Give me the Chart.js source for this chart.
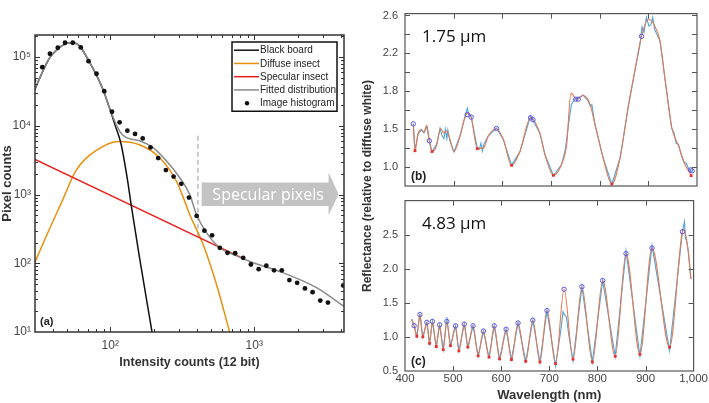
<!DOCTYPE html>
<html>
<head>
<meta charset="utf-8">
<script src="https://cdn.jsdelivr.net/npm/chart.js@4.4.1/dist/chart.umd.min.js"></script>
<style>
    body { margin: 0; background: #fff; width: 709px; height: 403px; position: relative; overflow: hidden; }
    canvas { position: absolute; }
</style>
</head>
<body>
<canvas id="chartA" width="360" height="403" style="left:0;top:0"></canvas>
<canvas id="chartB" width="349" height="403" style="left:360px;top:0"></canvas>
<canvas id="chartC" width="349" height="216" style="left:360px;top:187px"></canvas>
<script>
// ---- panel (a): intensity histogram ----
const histX = [29.5, 33.7, 38.1, 43.2, 48.5, 54.9, 62.4, 70.6, 80.2, 90.8, 102.8, 116.1, 131.4, 148.6, 168, 190.2, 215.2, 243.3, 275.2, 311.2, 351.8, 398, 450.4, 509.3, 576.3, 652, 736.7, 837.5, 947.5, 1073, 1213, 1372, 1553, 1754, 1985, 2248, 2541, 2873, 3250, 4150];
const histY = [45700, 71400, 112000, 137000, 162000, 162000, 138600, 87400, 57300, 31900, 16100, 11250, 8510, 7620, 6570, 4850, 3400, 2270, 1830, 1432, 904, 489, 298, 255, 168, 142, 140, 120, 96, 82, 92, 79, 79, 57, 52, 43, 38, 28.7, 26.8, 47.5];

const blackX = [30, 33.7, 38.1, 43.2, 48.5, 53, 58, 62.4, 70.6, 79.4, 89.4, 98.4, 108.4, 118.8, 132, 139.4, 159.2, 195.4];
const blackY = [34000, 60000, 99000, 132000, 155000, 162000, 158000, 138000, 90000, 57000, 33000, 18600, 10000, 5440, 1585, 724, 125, 9.7];

const orangeX = [30, 37, 46.4, 57.6, 79.4, 115.6, 159.4, 219.6, 287.4, 328, 355.6, 440.6, 546.8, 676.6];
const orangeY = [104, 285, 809, 2218, 4345, 5940, 5318, 3467, 1585, 809, 517, 189, 49.2, 9.7];

const redX = [30, 870];
const redY = [3250, 113];

const grayX = [30, 33.7, 38.1, 43.2, 48.5, 53, 58, 62.4, 70.6, 79.4, 89.4, 98.4, 106, 112.4, 120, 128.7, 140, 159.4, 197.2, 244.8, 303, 355.6, 396, 465.5, 576.3, 713, 984, 1592, 2725, 4180];
const grayY = [34000, 60000, 99000, 132000, 155000, 162000, 158000, 138000, 90000, 57000, 33000, 18600, 12500, 9510, 7600, 6790, 6400, 6080, 4850, 3104, 1770, 1014, 517, 279, 168, 135, 101.6, 72.6, 43.9, 23.7];

const cutX = [406, 406];
const cutY = [7200, 235];

const aLabels = ['Black board', 'Diffuse insect', 'Specular insect', 'Fitted distribution', 'Image histogram'];
const aXTicks = [100, 1000];
const aXTickLabels = ['10²', '10³'];
const aYTicks = [10, 100, 1000, 10000, 100000];
const aYTickLabels = ['10¹', '10²', '10³', '10⁴', '10⁵'];

// ---- panel (b): 1.75 um, [wavelength, reflectance] ----
const bFit = [[417,1.456],[420.5,1.173],[427,1.357],[434,1.397],[439,1.365],[444.6,1.44],[450,1.277],[455.5,1.163],[465,1.228],[473,1.407],[480,1.36],[486,1.38],[492,1.30],[500.7,1.163],[513,1.326],[523,1.52],[530,1.57],[536,1.527],[548.6,1.195],[561,1.20],[571,1.326],[588,1.407],[602,1.293],[619,1.017],[636,1.163],[658,1.52],[677,1.358],[687.6,1.13],[705,0.912],[722,1.033],[732,1.23],[741,1.78],[753,1.716],[766,1.755],[780,1.667],[790,1.456],[807,1.098],[825,0.82],[842,1.098],[859,1.65],[873,2.04],[886,2.38],[900,2.56],[912,2.50],[924,2.33],[934,1.94],[948,1.42],[961.6,1.23],[975,1.033],[988,0.91]];
const bMeas = [[417,1.46],[420.5,1.18],[427,1.35],[434,1.39],[439,1.36],[444.6,1.43],[450,1.28],[455.5,1.16],[465,1.24],[472,1.41],[476,1.33],[480,1.30],[483,1.40],[486,1.30],[488,1.39],[492,1.28],[500.7,1.16],[513,1.33],[523,1.53],[528,1.62],[531,1.55],[536,1.53],[548.6,1.20],[553,1.19],[556,1.25],[559,1.17],[562,1.24],[571,1.33],[588,1.41],[602,1.29],[619,1.02],[636,1.16],[658,1.54],[677,1.36],[687.6,1.13],[705,0.91],[722,1.03],[730,1.20],[736,1.45],[742,1.66],[748,1.71],[753,1.72],[766,1.76],[776,1.70],[781,1.64],[784,1.66],[790,1.46],[807,1.10],[825,0.82],[842,1.10],[859,1.64],[873,2.03],[883,2.30],[887,2.48],[891,2.42],[896,2.58],[901,2.49],[905,2.50],[909,2.58],[913,2.45],[924,2.33],[934,1.94],[948,1.41],[953,1.36],[957,1.25],[962,1.24],[968,1.12],[973,1.05],[978,1.04],[983,0.98],[988,0.96]];
const bPeaks = [[417,1.456],[450,1.277],[528,1.553],[536,1.527],[588,1.407],[658,1.52],[663,1.50],[751,1.716],[756,1.716],[886,2.38],[987,0.97],[990,0.96]];
const bTroughs = [[420.5,1.173],[455.5,1.163],[548.6,1.195],[619,1.017],[705,0.912],[825,0.82],[988,0.91]];
const bYTicks = [1.0, 1.4, 1.8, 2.2, 2.6];
const bYTickLabels = ['1.0', '1.5', '1.8', '2.2', '2.6'];

// ---- panel (c): 4.83 um ----
const cFit = [[413.7,1.26],[419,1.165],[424.5,1.01],[431,1.327],[437,1.0],[445.5,1.214],[451,0.905],[457,1.227],[465,0.86],[472,1.177],[479.5,0.813],[487,1.227],[494.5,0.873],[505,1.163],[512,0.796],[523.3,1.187],[530.5,0.85],[541.5,1.163],[552,0.723],[563,1.086],[574.6,0.704],[585.5,1.163],[596.6,0.677],[610.2,1.113],[621.3,0.669],[635,1.204],[651,0.641],[665.7,1.245],[680.5,0.632],[695.2,1.386],[713,0.609],[730.8,1.699],[749.3,0.673],[767.8,1.736],[789.5,0.632],[811,1.827],[837,0.714],[859.5,2.222],[888.4,0.745],[913.5,2.304],[950,0.85],[976.8,2.55],[980,2.58],[988,2.30],[994.4,1.85]];
const cMeas = [[413.7,1.26],[419,1.165],[424.5,1.01],[431,1.327],[437,1.0],[445.5,1.214],[451,0.905],[457,1.227],[465,0.86],[472,1.177],[479.5,0.813],[486,1.22],[487,1.29],[488,1.22],[494.5,0.873],[505,1.163],[512,0.796],[523.3,1.187],[530.5,0.85],[541.5,1.163],[552,0.723],[563,1.086],[574.6,0.704],[585.5,1.163],[596.6,0.677],[610.2,1.113],[621.3,0.669],[635,1.204],[651,0.641],[665.7,1.245],[680.5,0.632],[695.2,1.386],[713,0.58],[724,1.10],[728.5,1.37],[732,1.32],[735.5,1.30],[740,1.05],[749.3,0.65],[767.8,1.736],[789.5,0.632],[811,1.827],[837,0.714],[859.5,2.26],[888.4,0.72],[913.5,2.34],[950,0.80],[976.8,2.55],[981,2.69],[983,2.45],[986,2.39],[989,2.26],[994.4,1.85]];
const cPeaks = [[419,1.165],[431,1.327],[445.5,1.214],[457,1.227],[472,1.177],[487,1.227],[505,1.163],[523.3,1.187],[541.5,1.163],[563,1.086],[585.5,1.163],[610.2,1.113],[635,1.204],[665.7,1.245],[695.2,1.386],[730.8,1.699],[767.8,1.736],[811,1.827],[859.5,2.222],[913.5,2.304],[976.8,2.544]];
const cTroughs = [[424.5,1.01],[437,1.0],[451,0.905],[465,0.86],[479.5,0.813],[494.5,0.873],[512,0.796],[530.5,0.85],[552,0.723],[574.6,0.704],[596.6,0.677],[621.3,0.669],[651,0.641],[680.5,0.632],[713,0.609],[749.3,0.673],[789.5,0.632],[837,0.714],[888.4,0.745],[950,0.85]];
const cYTicks = [0.5, 1.0, 1.5, 2.0, 2.5];
const cYTickLabels = ['0.5', '1.0', '1.5', '2.0', '2.5'];
const wlTicks = [400, 500, 600, 700, 800, 900, 1000];
const wlTickLabels = ['400', '500', '600', '700', '800', '900', '1,000'];


Chart.defaults.font.family = "'Liberation Sans', Arial, sans-serif";
Chart.defaults.color = '#333';
Chart.defaults.animation = false;

const toPts = (xs, ys) => xs.map((x, i) => ({ x: x, y: ys[i] }));
const pairPts = arr => arr.map(p => ({ x: p[0], y: p[1] }));

function logMinor(lo, hi) {
    const out = [];
    for (let d = 1; d <= 100000; d *= 10) {
        for (let k = 1; k < 10; k++) {
            const v = k * d;
            if (v > lo && v < hi) out.push(v);
        }
    }
    return out;
}

// frame round the plot area plus inward tick marks on all four sides
function frameTicks(id, o) {
    return {
        id: id,
        afterDatasetsDraw(chart) {
            const { ctx, chartArea: a } = chart;
            const x = chart.scales.x, y = chart.scales.y;
            ctx.save();
            ctx.strokeStyle = o.tickColor;
            ctx.lineWidth = 1;
            function marks(vals, len, horiz) {
                ctx.beginPath();
                vals.forEach(v => {
                    if (horiz) {
                        const p = Math.round(x.getPixelForValue(v)) + 0.5;
                        if (p <= a.left + 1 || p >= a.right - 1) return;
                        ctx.moveTo(p, a.bottom); ctx.lineTo(p, a.bottom - len);
                        ctx.moveTo(p, a.top); ctx.lineTo(p, a.top + len);
                    } else {
                        const p = Math.round(y.getPixelForValue(v)) + 0.5;
                        if (p <= a.top + 1 || p >= a.bottom - 1) return;
                        ctx.moveTo(a.left, p); ctx.lineTo(a.left + len, p);
                        ctx.moveTo(a.right, p); ctx.lineTo(a.right - len, p);
                    }
                });
                ctx.stroke();
            }
            marks(o.xMajor, 5, true);
            marks(o.xMinor, 3, true);
            marks(o.yMajor, 5, false);
            marks(o.yMinor, 3, false);
            ctx.strokeStyle = o.frameColor;
            ctx.lineWidth = o.frameWidth;
            ctx.strokeRect(a.left, a.top, a.right - a.left, a.bottom - a.top);
            ctx.restore();
        }
    };
}

// legend box of panel (a), built from the datasets
const boxLegend = {
    id: 'boxLegend',
    afterDraw(chart) {
        const { ctx, chartArea: a } = chart;
        const items = chart.data.datasets.filter(d => aLabels.includes(d.label));
        const w = 105, row = 13.25;
        const x0 = a.right - 7 - w, y0 = a.top + 7;
        const h = items.length * row + 3;
        ctx.save();
        ctx.fillStyle = '#fff';
        ctx.fillRect(x0, y0, w, h);
        ctx.strokeStyle = '#111';
        ctx.lineWidth = 1.5;
        ctx.strokeRect(x0, y0, w, h);
        ctx.font = "10px 'Liberation Sans', Arial, sans-serif";
        ctx.textBaseline = 'middle';
        items.forEach((d, i) => {
            const cy = y0 + 8.2 + i * row;
            if (d.showLine) {
                ctx.strokeStyle = d.borderColor;
                ctx.lineWidth = 1.5;
                ctx.beginPath();
                ctx.moveTo(x0 + 2, cy); ctx.lineTo(x0 + 27, cy);
                ctx.stroke();
            } else {
                ctx.fillStyle = d.backgroundColor;
                ctx.beginPath();
                ctx.arc(x0 + 15, cy, 2.2, 0, Math.PI * 2);
                ctx.fill();
            }
            ctx.fillStyle = '#222';
            ctx.fillText(d.label, x0 + 28, cy + 0.5);
        });
        ctx.restore();
    }
};

// grey arrow and panel letter of (a)
const specArrow = {
    id: 'specArrow',
    beforeDatasetsDraw(chart) {
        const { ctx } = chart;
        const x = chart.scales.x, y = chart.scales.y;
        const xs = x.getPixelForValue(431), xh = x.getPixelForValue(3283), xt = x.getPixelForValue(3855);
        const yt = y.getPixelForValue(1496), yb = y.getPixelForValue(684);
        const ht = y.getPixelForValue(2094), hb = y.getPixelForValue(500);
        const ym = (yt + yb) / 2;
        ctx.save();
        ctx.fillStyle = '#c3c3c3';
        ctx.beginPath();
        ctx.moveTo(xs, yt); ctx.lineTo(xh, yt); ctx.lineTo(xh, ht); ctx.lineTo(xt, ym);
        ctx.lineTo(xh, hb); ctx.lineTo(xh, yb); ctx.lineTo(xs, yb);
        ctx.closePath();
        ctx.fill();
        ctx.fillStyle = '#fff';
        ctx.font = "16px 'Open Sans', 'Noto Sans', sans-serif";
        ctx.textAlign = 'center';
        ctx.textBaseline = 'middle';
        ctx.fillText('Specular pixels', (xs + xh) / 2 + 3, ym + 1);
        ctx.restore();
    },
    afterDraw(chart) {
        const { ctx, chartArea: a } = chart;
        ctx.save();
        ctx.fillStyle = '#222';
        ctx.font = "bold 11px 'Liberation Sans', Arial, sans-serif";
        ctx.textBaseline = 'middle';
        ctx.fillText('(a)', a.left + 5, a.bottom - 10.5);
        ctx.restore();
    }
};

function panelText(id, big, letter, extra) {
    return {
        id: id,
        afterDraw(chart) {
            const { ctx, chartArea: a } = chart;
            ctx.save();
            ctx.fillStyle = '#111';
            ctx.textBaseline = 'middle';
            ctx.font = "17px 'Open Sans', 'Noto Sans', sans-serif";
            ctx.fillText(big, a.left + 17, a.top + 24);
            ctx.fillStyle = '#222';
            ctx.font = "bold 12px 'Liberation Sans', Arial, sans-serif";
            ctx.fillText(letter, a.left + 6, a.bottom - 9.5);
            if (extra) extra(ctx, chart);
            ctx.restore();
        }
    };
}

const tickFont = { size: 12 };

new Chart(document.getElementById('chartA'), {
    type: 'scatter',
    data: {
        datasets: [
            { label: aLabels[0], data: toPts(blackX, blackY), showLine: true, borderColor: '#111', borderWidth: 1.5, pointRadius: 0, cubicInterpolationMode: 'monotone', order: 2 },
            { label: aLabels[1], data: toPts(orangeX, orangeY), showLine: true, borderColor: '#e8900f', borderWidth: 1.5, pointRadius: 0, cubicInterpolationMode: 'monotone', order: 4 },
            { label: aLabels[2], data: toPts(redX, redY), showLine: true, borderColor: '#e8201c', borderWidth: 1.5, pointRadius: 0, order: 3 },
            { label: aLabels[3], data: toPts(grayX, grayY), showLine: true, borderColor: '#8a8a8a', borderWidth: 1.5, pointRadius: 0, cubicInterpolationMode: 'monotone', order: 1 },
            { label: aLabels[4], data: toPts(histX, histY), showLine: false, backgroundColor: '#111', borderColor: '#111', pointRadius: 2.4, borderWidth: 0, order: 0 },
            { label: 'cut', data: toPts(cutX, cutY), showLine: true, borderColor: '#bdbdbd', borderWidth: 1.5, borderDash: [5, 3], pointRadius: 0, order: 5 }
        ]
    },
    options: {
        responsive: false,
        events: [],
        layout: { padding: { top: 35, right: 16, bottom: 33, left: 0 } },
        plugins: { legend: { display: false }, tooltip: { enabled: false } },
        scales: {
            x: {
                type: 'logarithmic', min: 30, max: 4200,
                grid: { display: false, drawTicks: false }, border: { display: false },
                afterBuildTicks: s => { s.ticks = aXTicks.map(v => ({ value: v })); },
                afterFit: s => { s.height = 38; },
                ticks: { font: tickFont, padding: 6, color: '#444', maxRotation: 0,
                    callback: v => aXTickLabels[aXTicks.indexOf(v)] },
                title: { display: true, text: 'Intensity counts (12 bit)', font: { size: 12.5, weight: 'bold' }, color: '#333', padding: 0 }
            },
            y: {
                type: 'logarithmic', min: 10, max: 210000,
                grid: { display: false, drawTicks: false }, border: { display: false },
                afterBuildTicks: s => { s.ticks = aYTicks.map(v => ({ value: v })); },
                afterFit: s => { s.width = 35; },
                ticks: { font: tickFont, padding: 4, color: '#444',
                    callback: v => aYTickLabels[aYTicks.indexOf(v)] },
                title: { display: true, text: 'Pixel counts', font: { size: 13, weight: 'bold' }, color: '#333', padding: 0 }
            }
        }
    },
    plugins: [
        frameTicks('frameA', { xMajor: aXTicks, xMinor: logMinor(30, 4200).filter(v => !aXTicks.includes(v)),
            yMajor: aYTicks, yMinor: logMinor(10, 210000).filter(v => !aYTicks.includes(v)),
            tickColor: '#333', frameColor: '#333', frameWidth: 1.5 }),
        specArrow, boxLegend
    ]
});

function spectrumSets(fit, meas, peaks, troughs) {
    return [
        { label: 'measured', data: pairPts(meas), showLine: true, borderColor: '#4ea3dc', borderWidth: 1.1, pointRadius: 0, order: 2 },
        { label: 'fit', data: pairPts(fit), showLine: true, borderColor: '#e27a52', borderWidth: 1.1, pointRadius: 0, cubicInterpolationMode: 'monotone', order: 1 },
        { label: 'peaks', data: pairPts(peaks), showLine: false, pointStyle: 'circle', pointRadius: 2.2, borderColor: '#5858e0', backgroundColor: 'rgba(255,255,255,0)', borderWidth: 1, order: 0 },
        { label: 'troughs', data: pairPts(troughs), showLine: false, pointStyle: 'rect', pointRadius: 2, borderColor: '#e83030', backgroundColor: '#e83030', borderWidth: 0, order: 0 }
    ];
}

const baseOpts = {
    responsive: false,
    events: [],
    plugins: { legend: { display: false }, tooltip: { enabled: false } }
};

new Chart(document.getElementById('chartB'), {
    type: 'scatter',
    data: { datasets: spectrumSets(bFit, bMeas, bPeaks, bTroughs) },
    options: Object.assign({}, baseOpts, {
        layout: { padding: { top: 2, right: 12, bottom: 217, left: 0 } },
        scales: {
            x: { type: 'linear', min: 400, max: 1000, display: false },
            y: {
                type: 'linear', min: 0.8, max: 2.62,
                grid: { display: false, drawTicks: false }, border: { display: false },
                afterBuildTicks: s => { s.ticks = bYTicks.map(v => ({ value: v })); },
                afterFit: s => { s.width = 45; },
                ticks: { font: { size: 11 }, padding: 7, color: '#444',
                    callback: (v, i) => bYTickLabels[i] }
            }
        }
    }),
    plugins: [
        frameTicks('frameB', { xMajor: wlTicks, xMinor: [], yMajor: [1.0, 1.2, 1.4, 1.6, 1.8, 2.0, 2.2, 2.4, 2.6], yMinor: [],
            tickColor: '#555', frameColor: '#555', frameWidth: 1.2 }),
        panelText('textB', '1.75 \u00b5m', '(b)', (ctx, chart) => {
            // shared y title of panels (b) and (c)
            ctx.save();
            ctx.translate(8, 186);
            ctx.rotate(-Math.PI / 2);
            ctx.textAlign = 'center';
            ctx.fillStyle = '#333';
            ctx.font = "bold 12px 'Liberation Sans', Arial, sans-serif";
            ctx.fillText('Reflectance (relative to diffuse white)', 0, 0);
            ctx.restore();
        })
    ]
});

new Chart(document.getElementById('chartC'), {
    type: 'scatter',
    data: { datasets: spectrumSets(cFit, cMeas, cPeaks, cTroughs) },
    options: Object.assign({}, baseOpts, {
        layout: { padding: { top: 1, right: 12, bottom: 0, left: 0 } },
        scales: {
            x: {
                type: 'linear', min: 400, max: 1000,
                grid: { display: false, drawTicks: false }, border: { display: false },
                afterBuildTicks: s => { s.ticks = wlTicks.map(v => ({ value: v })); },
                afterFit: s => { s.height = 32; },
                ticks: { font: { size: 11.5 }, padding: 1, color: '#444', maxRotation: 0,
                    callback: (v, i) => wlTickLabels[i] },
                title: { display: true, text: 'Wavelength (nm)', font: { size: 13, weight: 'bold' }, color: '#333', padding: 0 }
            },
            y: {
                type: 'linear', min: 0.5, max: 3.0,
                grid: { display: false, drawTicks: false }, border: { display: false },
                afterBuildTicks: s => { s.ticks = cYTicks.map(v => ({ value: v })); },
                afterFit: s => { s.width = 45; },
                ticks: { font: { size: 11 }, padding: 7, color: '#444',
                    callback: (v, i) => cYTickLabels[i] }
            }
        }
    }),
    plugins: [
        frameTicks('frameC', { xMajor: wlTicks, xMinor: [], yMajor: cYTicks, yMinor: [],
            tickColor: '#555', frameColor: '#555', frameWidth: 1.2 }),
        panelText('textC', '4.83 \u00b5m', '(c)')
    ]
});
</script>
</body>
</html>
